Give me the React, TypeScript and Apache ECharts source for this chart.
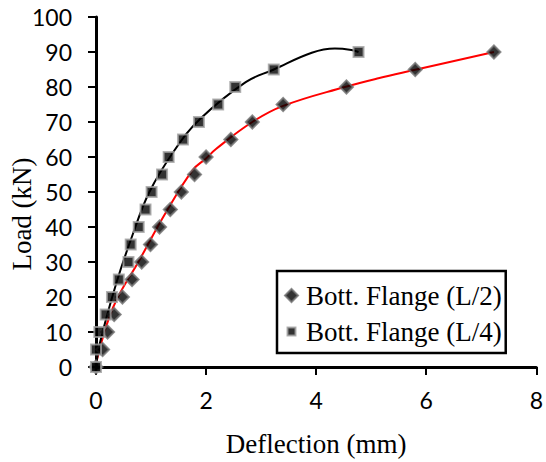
import React, { useEffect, useRef } from "react";
import * as echarts from "echarts";

// Measured points (deflection mm, load kN)
const halfDeflection = [0, 0.12, 0.21, 0.33, 0.48, 0.655, 0.83, 0.99, 1.155, 1.35, 1.55, 1.79, 2.0, 2.45, 2.84, 3.4, 4.55, 5.8, 7.23];
const halfLoad = [0, 5, 10, 15, 20, 25, 30, 35, 40, 45, 50, 55, 60, 65, 70, 75, 80, 85, 90];

const quarterDeflection = [0, 0, 0.06, 0.175, 0.29, 0.415, 0.59, 0.63, 0.776, 0.9, 1.01, 1.2, 1.32, 1.58, 1.87, 2.22, 2.53, 3.23, 4.77];
const quarterLoad = [0, 5, 10, 15, 20, 25, 30, 35, 40, 45, 50, 55, 60, 65, 70, 75, 80, 85, 90];

// Trend lines
const halfTrendX = [0, 0.31, 0.79, 1.28, 1.76, 2.0, 2.18, 2.84, 3.4, 4.52, 5.13, 5.8, 7.23];
const halfTrendY = [1, 17, 30.6, 44.4, 56.3, 59.6, 62.3, 70, 74.6, 80, 82.5, 84.9, 90];

const quarterTrendX = [0, 0.07, 0.37, 0.67, 0.97, 1.43, 1.9, 2.72, 3.23, 3.92, 4.34, 4.64, 4.77];
const quarterTrendY = [0, 6.8, 24, 38, 50, 62, 71, 81.4, 85, 89.8, 91, 90.6, 90];

const seriesNames = ["Bott. Flange (L/2)", "Bott. Flange (L/4)"];
const xTicks = { min: 0, max: 8, interval: 2 };
const yTicks = { min: 0, max: 100, interval: 10 };
const xTitle = "Deflection (mm)";
const yTitle = "Load (kN)";

const zip = (a: number[], b: number[]) => a.map((v, i) => [v, b[i]]);

export default function App() {
  const ref = useRef<HTMLDivElement>(null);
  useEffect(() => {
    const chart = echarts.init(ref.current!, null, { renderer: "svg" });
    const serif = "Liberation Serif";
    const sans = "Lato";
    chart.setOption({
      animation: false,
      backgroundColor: "#fff",
      grid: { left: 96, top: 17, width: 443, height: 350 },
      xAxis: {
        type: "value",
        min: xTicks.min,
        max: xTicks.max,
        interval: xTicks.interval,
        name: xTitle,
        nameLocation: "middle",
        nameGap: 63,
        nameTextStyle: { fontFamily: serif, fontSize: 27, color: "#000" },
        axisLine: { lineStyle: { color: "#000", width: 3 } },
        axisTick: { show: true, inside: false, length: 8, lineStyle: { color: "#000", width: 2 } },
        axisLabel: { fontFamily: sans, fontSize: 23, color: "#000", margin: 21 },
        splitLine: { show: false },
      },
      yAxis: {
        type: "value",
        min: yTicks.min,
        max: yTicks.max,
        interval: yTicks.interval,
        axisLine: { show: true, lineStyle: { color: "#000", width: 3 } },
        axisTick: { show: true, inside: false, length: 8, lineStyle: { color: "#000", width: 2 } },
        axisLabel: { fontFamily: sans, fontSize: 23, color: "#000", margin: 24 },
        splitLine: { show: false },
      },
      graphic: [
        {
          type: "text",
          x: 22,
          y: 214,
          rotation: Math.PI / 2,
          style: {
            text: yTitle,
            fontFamily: serif,
            fontSize: 27,
            fill: "#000",
            align: "center",
            verticalAlign: "middle",
          },
        },
      ],
      legend: {
        left: 277,
        top: 271,
        orient: "vertical",
        data: [
          { name: seriesNames[0], icon: "diamond" },
          {
            name: seriesNames[1],
            icon: "path://M0,0M13,13M2.5,2.5L10.5,2.5L10.5,10.5L2.5,10.5Z",
          },
        ],
        backgroundColor: "#fff",
        borderColor: "#000",
        borderWidth: 2.5,
        padding: [11, 4, 8, 7],
        itemGap: 9,
        itemWidth: 13,
        itemHeight: 13,
        textStyle: { fontFamily: serif, fontSize: 27, color: "#000", padding: [0, 0, 0, 3] },
      },
      series: [
        {
          type: "line",
          data: zip(halfTrendX, halfTrendY),
          smooth: 0.4,
          showSymbol: false,
          symbol: "none",
          lineStyle: { color: "#ff0000", width: 2 },
          z: 1,
          silent: true,
        },
        {
          type: "line",
          data: zip(quarterTrendX, quarterTrendY),
          smooth: 0.4,
          showSymbol: false,
          symbol: "none",
          lineStyle: { color: "#000", width: 2 },
          z: 1,
          silent: true,
        },
        {
          name: seriesNames[0],
          type: "scatter",
          symbol: "diamond",
          symbolSize: 13,
          data: zip(halfDeflection, halfLoad),
          itemStyle: { color: "#000", borderColor: "#707070", borderWidth: 2 },
          z: 2,
        },
        {
          name: seriesNames[1],
          type: "scatter",
          symbol: "rect",
          symbolSize: 10,
          data: zip(quarterDeflection, quarterLoad),
          itemStyle: { color: "#000", borderColor: "#a0a0a0", borderWidth: 2 },
          z: 3,
        },
      ],
    });
    return () => chart.dispose();
  }, []);
  return (
    <div
      ref={ref}
      style={{ position: "fixed", left: 0, top: 0, width: 546, height: 462 }}
    />
  );
}
